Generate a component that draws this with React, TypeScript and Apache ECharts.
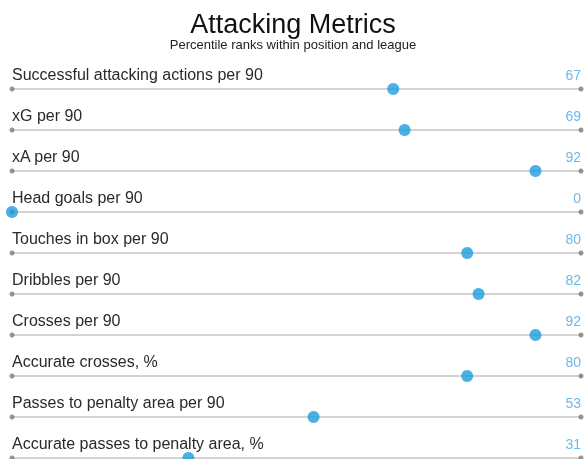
import React, { useEffect, useRef } from "react";
import * as echarts from "echarts";

const metrics = [
  "Successful attacking actions per 90",
  "xG per 90",
  "xA per 90",
  "Head goals per 90",
  "Touches in box per 90",
  "Dribbles per 90",
  "Crosses per 90",
  "Accurate crosses, %",
  "Passes to penalty area per 90",
  "Accurate passes to penalty area, %",
];
const percentiles = [67, 69, 92, 0, 80, 82, 92, 80, 53, 31];
const trackMax = 100;

export default function App() {
  const ref = useRef<HTMLDivElement>(null);
  useEffect(() => {
    if (!ref.current) return;
    const chart = echarts.init(ref.current, undefined, { renderer: "svg" });
    const font = "Liberation Sans, Arial, sans-serif";
    chart.setOption({
      animation: false,
      title: {
        text: "Attacking Metrics",
        subtext: "Percentile ranks within position and league",
        left: "center",
        top: 5,
        itemGap: 1,
        textStyle: { fontFamily: font, fontSize: 27, fontWeight: "normal", color: "#111" },
        subtextStyle: { fontFamily: font, fontSize: 13, color: "#222" },
      },
      grid: { left: 12, right: 5, top: 89, bottom: 1, containLabel: false },
      xAxis: { type: "value", min: 0, max: 100, show: false },
      yAxis: {
        type: "category",
        data: metrics,
        inverse: true,
        boundaryGap: false,
        show: false,
      },
      series: [
        {
          type: "bar",
          data: metrics.map(() => trackMax),
          barWidth: 2,
          silent: true,
          clip: false,
          itemStyle: { color: "#d3d3d3" },
          label: {
            show: true,
            formatter: (p: any) => p.name,
            position: [0, -14],
            align: "left",
            verticalAlign: "middle",
            fontFamily: font,
            fontSize: 16,
            color: "#2a2a2a",
          },
          z: 1,
        },
        {
          type: "scatter",
          data: metrics.map((_, i) => [0, i]),
          symbolSize: 5,
          silent: true,
          clip: false,
          itemStyle: { color: "#7a7a7a" },
          z: 2,
        },
        {
          type: "scatter",
          data: metrics.map((_, i) => [trackMax, i, percentiles[i]]),
          symbolSize: 5,
          silent: true,
          clip: false,
          itemStyle: { color: "#7a7a7a" },
          label: {
            show: true,
            formatter: (p: any) => String(p.value[2]),
            position: "top",
            align: "right",
            distance: 5,
            fontFamily: font,
            fontSize: 14,
            color: "#4aa8de",
          },
          z: 2,
        },
        {
          type: "scatter",
          data: percentiles.map((v, i) => [v, i]),
          symbolSize: 12,
          silent: true,
          clip: false,
          itemStyle: { color: "#1e9ddf" },
          z: 3,
        },
      ],
    });
    return () => chart.dispose();
  }, []);
  return (
    <div
      ref={ref}
      style={{ position: "fixed", left: 0, top: 0, width: 586, height: 459 }}
    />
  );
}
